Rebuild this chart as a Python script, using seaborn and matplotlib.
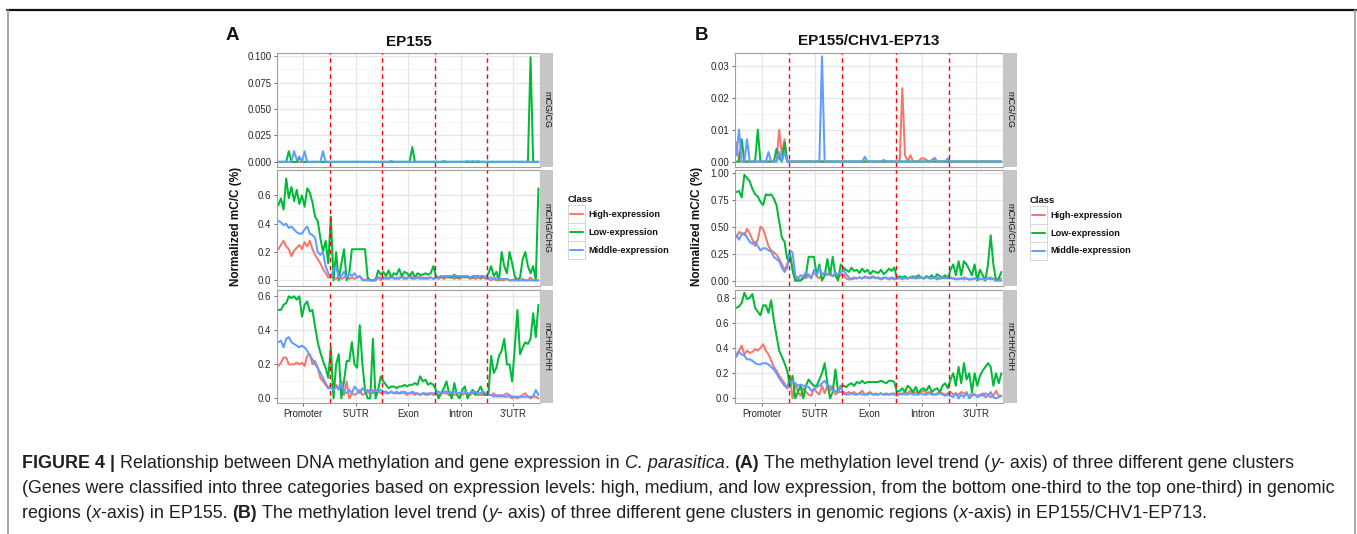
import matplotlib
matplotlib.use("Agg")
import matplotlib.pyplot as plt
import numpy as np
import pandas as pd
import seaborn as sns
from matplotlib.lines import Line2D
from matplotlib.patches import Rectangle
from matplotlib.ticker import FormatStrFormatter

# ---------------- data ----------------
regions = ["Promoter", "5'UTR", "Exon", "Intron", "3'UTR"]
bins_per_region = 20
classes = ["High-expression", "Low-expression", "Middle-expression"]
contexts = ["mCG/CG", "mCHG/CHG", "mCHH/CHH"]
palette = {"High-expression": "#F8766D", "Low-expression": "#00BA38", "Middle-expression": "#619CFF"}

# Panel A: EP155
A_CG_high = [0, 0, 0, 0, 0, 0, 0, 0, 0, 0, 0, 0, 0, 0, 0, 0, 0, 0, 0, 0,
             0, 0, 0, 0, 0, 0, 0, 0, 0, 0, 0, 0, 0, 0, 0, 0, 0, 0, 0, 0,
             0, 0, 0, 0, 0, 0, 0, 0, 0, 0, 0, 0, 0, 0, 0, 0, 0, 0, 0, 0,
             0, 0, 0, 0, 0, 0, 0, 0, 0, 0, 0, 0, 0, 0, 0, 0, 0, 0, 0, 0,
             0, 0, 0, 0, 0, 0, 0, 0, 0, 0, 0, 0, 0, 0, 0, 0, 0, 0, 0, 0]
A_CG_low = [0, 0, 0, 0, 0.010, 0, 0, 0, 0.004, 0, 0, 0, 0, 0, 0, 0, 0, 0, 0, 0,
            0, 0, 0, 0, 0, 0, 0, 0, 0, 0, 0, 0, 0, 0, 0, 0, 0, 0, 0, 0,
            0, 0, 0, 0, 0, 0, 0, 0, 0, 0, 0, 0.014, 0, 0, 0, 0, 0, 0, 0, 0,
            0, 0, 0, 0, 0, 0, 0, 0, 0, 0, 0, 0, 0, 0, 0, 0, 0, 0, 0, 0,
            0, 0, 0, 0, 0, 0, 0, 0, 0, 0, 0, 0, 0, 0, 0, 0, 0.099, 0, 0, 0]
A_CG_mid = [0, 0, 0, 0, 0, 0, 0.010, 0.002, 0.005, 0, 0.010, 0, 0, 0, 0, 0, 0, 0.010, 0, 0,
            0, 0, 0, 0, 0, 0, 0, 0, 0, 0, 0, 0, 0, 0, 0, 0, 0, 0, 0, 0,
            0, 0, 0, 0.0007, 0, 0, 0, 0, 0, 0, 0, 0, 0, 0, 0, 0, 0, 0, 0, 0,
            0, 0, 0, 0.0007, 0, 0, 0, 0, 0, 0, 0, 0, 0.0007, 0, 0.0007, 0, 0.0007, 0, 0, 0,
            0, 0, 0, 0, 0, 0, 0, 0, 0, 0, 0, 0, 0, 0, 0, 0, 0, 0, 0, 0]

A_CHG_high = [0.22, 0.25, 0.28, 0.24, 0.22, 0.17, 0.21, 0.23, 0.25, 0.22, 0.27, 0.24, 0.28, 0.22, 0.18, 0.15, 0.12, 0.08, 0.05, 0.02,
              0.03, 0.02, 0.01, 0.03, 0.01, 0.02, 0.03, 0.01, 0.02, 0.01, 0.02, 0.03, 0.01, 0.0, 0.01, 0.0, 0.0, 0.01, 0.02, 0.0,
              0.02, 0.01, 0.02, 0.03, 0.01, 0.02, 0.01, 0.03, 0.02, 0.01, 0.04, 0.02, 0.01, 0.02, 0.03, 0.01, 0.02, 0.01, 0.02, 0.01,
              0.02, 0.01, 0.02, 0.01, 0.02, 0.03, 0.02, 0.01, 0.02, 0.01, 0.02, 0.03, 0.02, 0.01, 0.02, 0.01, 0.02, 0.01, 0.02, 0.01,
              0.01, 0.0, 0.01, 0.0, 0.01, 0.0, 0.0, 0.01, 0.0, 0.0, 0.01, 0.0, 0.0, 0.01, 0.0, 0.0, 0.02, 0.0, 0.0, 0.0]
A_CHG_low = [0.53, 0.58, 0.50, 0.72, 0.58, 0.66, 0.56, 0.64, 0.54, 0.60, 0.52, 0.65, 0.62, 0.55, 0.45, 0.42, 0.30, 0.20, 0.28, 0.12,
             0.45, 0.0, 0.20, 0.0, 0.12, 0.22, 0.0, 0.05, 0.22, 0.22, 0.22, 0.22, 0.22, 0.22, 0.02, 0.0, 0.0, 0.0, 0.07, 0.04,
             0.06, 0.03, 0.07, 0.02, 0.05, 0.04, 0.08, 0.03, 0.06, 0.05, 0.03, 0.06, 0.02, 0.05, 0.04, 0.04, 0.05, 0.04, 0.05, 0.10,
             0.03, 0.02, 0.03, 0.02, 0.03, 0.02, 0.02, 0.03, 0.02, 0.02, 0.03, 0.02, 0.03, 0.02, 0.02, 0.03, 0.03, 0.02, 0.03, 0.02,
             0.05, 0.10, 0.03, 0.06, 0.0, 0.20, 0.10, 0.05, 0.20, 0.12, 0.03, 0.0, 0.02, 0.15, 0.20, 0.10, 0.05, 0.10, 0.0, 0.65]
A_CHG_mid = [0.42, 0.41, 0.39, 0.40, 0.37, 0.38, 0.36, 0.34, 0.33, 0.33, 0.36, 0.38, 0.33, 0.32, 0.30, 0.20, 0.18, 0.20, 0.10, 0.05,
             0.02, 0.08, 0.10, 0.02, 0.03, 0.06, 0.02, 0.05, 0.03, 0.05, 0.02, 0.03, 0.0, 0.0, 0.0, 0.0, 0.0, 0.0, 0.02, 0.02,
             0.01, 0.02, 0.01, 0.02, 0.02, 0.01, 0.02, 0.02, 0.01, 0.02, 0.02, 0.01, 0.02, 0.02, 0.01, 0.02, 0.01, 0.02, 0.02, 0.01,
             0.02, 0.02, 0.02, 0.03, 0.03, 0.03, 0.03, 0.04, 0.03, 0.03, 0.03, 0.03, 0.03, 0.02, 0.03, 0.03, 0.02, 0.03, 0.03, 0.02,
             0.02, 0.02, 0.01, 0.02, 0.01, 0.01, 0.01, 0.01, 0.0, 0.0, 0.0, 0.0, 0.0, 0.0, 0.0, 0.0, 0.0, 0.0, 0.0, 0.0]

A_CHH_high = [0.19, 0.21, 0.24, 0.24, 0.20, 0.20, 0.20, 0.21, 0.20, 0.21, 0.19, 0.25, 0.26, 0.20, 0.22, 0.18, 0.12, 0.10, 0.08, 0.06,
              0.08, 0.07, 0.08, 0.06, 0.10, 0.02, 0.10, 0.0, 0.03, 0.02, 0.03, 0.05, 0.02, 0.03, 0.04, 0.03, 0.05, 0.03, 0.04, 0.03,
              0.04, 0.03, 0.03, 0.04, 0.03, 0.03, 0.03, 0.04, 0.03, 0.02, 0.03, 0.03, 0.02, 0.03, 0.02, 0.03, 0.02, 0.03, 0.03, 0.02,
              0.03, 0.02, 0.03, 0.03, 0.03, 0.02, 0.03, 0.02, 0.03, 0.03, 0.02, 0.03, 0.03, 0.02, 0.03, 0.03, 0.02, 0.02, 0.02, 0.02,
              0.02, 0.02, 0.03, 0.01, 0.02, 0.01, 0.02, 0.03, 0.01, 0.0, 0.01, 0.0, 0.01, 0.02, 0.03, 0.01, 0.0, 0.01, 0.01, 0.0]
A_CHH_low = [0.52, 0.52, 0.55, 0.56, 0.60, 0.59, 0.60, 0.58, 0.60, 0.48, 0.55, 0.57, 0.51, 0.52, 0.42, 0.33, 0.27, 0.22, 0.18, 0.12,
             0.30, 0.0, 0.20, 0.26, 0.0, 0.10, 0.22, 0.22, 0.33, 0.20, 0.18, 0.43, 0.20, 0.05, 0.0, 0.0, 0.35, 0.0, 0.05, 0.13,
             0.10, 0.08, 0.06, 0.07, 0.07, 0.06, 0.07, 0.07, 0.08, 0.07, 0.08, 0.08, 0.09, 0.08, 0.13, 0.10, 0.11, 0.08, 0.09, 0.08,
             0.05, 0.0, 0.03, 0.06, 0.10, 0.03, 0.0, 0.09, 0.02, 0.0, 0.05, 0.07, 0.0, 0.03, 0.05, 0.02, 0.04, 0.07, 0.03, 0.02,
             0.03, 0.25, 0.15, 0.18, 0.25, 0.28, 0.35, 0.20, 0.20, 0.10, 0.30, 0.52, 0.26, 0.30, 0.33, 0.32, 0.35, 0.50, 0.36, 0.55]
A_CHH_mid = [0.33, 0.34, 0.30, 0.35, 0.36, 0.33, 0.32, 0.31, 0.30, 0.31, 0.30, 0.28, 0.25, 0.23, 0.20, 0.18, 0.15, 0.12, 0.09, 0.06,
             0.06, 0.05, 0.07, 0.05, 0.09, 0.04, 0.03, 0.05, 0.03, 0.07, 0.05, 0.03, 0.06, 0.04, 0.05, 0.04, 0.03, 0.05, 0.04, 0.05,
             0.04, 0.04, 0.03, 0.04, 0.03, 0.04, 0.03, 0.03, 0.04, 0.03, 0.03, 0.04, 0.03, 0.03, 0.02, 0.03, 0.03, 0.02, 0.03, 0.03,
             0.03, 0.04, 0.03, 0.04, 0.04, 0.03, 0.04, 0.04, 0.03, 0.03, 0.04, 0.04, 0.03, 0.03, 0.04, 0.04, 0.03, 0.03, 0.04, 0.03,
             0.02, 0.02, 0.01, 0.02, 0.01, 0.02, 0.01, 0.01, 0.02, 0.01, 0.01, 0.01, 0.01, 0.01, 0.01, 0.01, 0.01, 0.01, 0.05, 0.02]

# Panel B: EP155/CHV1-EP713
B_CG_high = [0.006, 0, 0, 0, 0, 0, 0, 0, 0, 0, 0, 0, 0, 0, 0, 0, 0.010, 0.002, 0.007, 0,
             0, 0, 0, 0, 0, 0, 0, 0, 0, 0, 0, 0, 0, 0, 0, 0, 0, 0, 0, 0,
             0, 0, 0, 0, 0, 0, 0, 0, 0, 0, 0, 0, 0, 0, 0, 0, 0, 0, 0, 0,
             0, 0, 0.023, 0.002, 0, 0.002, 0, 0, 0, 0.001, 0.001, 0.0005, 0, 0.0005, 0.001, 0, 0, 0, 0, 0,
             0, 0, 0, 0, 0, 0, 0, 0, 0, 0, 0, 0, 0, 0, 0, 0, 0, 0, 0, 0]
B_CG_low = [0, 0, 0.007, 0, 0, 0, 0, 0, 0.010, 0, 0, 0, 0, 0, 0, 0.004, 0.001, 0, 0.006, 0,
            0, 0, 0, 0, 0, 0, 0, 0, 0, 0, 0, 0, 0, 0, 0, 0, 0, 0, 0, 0,
            0, 0, 0, 0, 0, 0, 0, 0, 0, 0, 0, 0, 0, 0, 0, 0, 0, 0, 0, 0,
            0, 0, 0, 0, 0, 0, 0, 0, 0, 0, 0, 0, 0, 0, 0, 0, 0, 0, 0, 0,
            0, 0, 0, 0, 0, 0, 0, 0, 0, 0, 0, 0, 0, 0, 0, 0, 0, 0, 0, 0]
B_CG_mid = [0.002, 0.010, 0, 0, 0.007, 0, 0, 0, 0, 0, 0, 0, 0.003, 0, 0, 0, 0.003, 0, 0.003, 0,
            0, 0, 0, 0, 0, 0, 0, 0, 0, 0, 0, 0, 0.033, 0, 0, 0, 0, 0, 0, 0,
            0, 0, 0, 0, 0, 0, 0, 0, 0.0015, 0, 0, 0, 0, 0, 0, 0.0005, 0, 0, 0, 0,
            0, 0, 0, 0, 0, 0, 0, 0, 0, 0, 0, 0, 0, 0, 0.0012, 0, 0, 0, 0, 0.001,
            0, 0, 0, 0, 0, 0, 0, 0, 0, 0, 0, 0, 0, 0, 0, 0, 0, 0, 0, 0]

B_CHG_high = [0.40, 0.45, 0.44, 0.42, 0.48, 0.44, 0.38, 0.32, 0.38, 0.50, 0.48, 0.40, 0.32, 0.28, 0.26, 0.24, 0.20, 0.15, 0.10, 0.15,
              0.25, 0.10, 0.0, 0.02, 0.0, 0.05, 0.02, 0.06, 0.03, 0.08, 0.04, 0.02, 0.06, 0.07, 0.05, 0.08, 0.04, 0.06, 0.03, 0.05,
              0.06, 0.02, 0.01, 0.02, 0.03, 0.02, 0.03, 0.02, 0.04, 0.02, 0.03, 0.04, 0.02, 0.03, 0.01, 0.02, 0.03, 0.01, 0.02, 0.01,
              0.02, 0.03, 0.01, 0.03, 0.02, 0.03, 0.02, 0.04, 0.02, 0.03, 0.02, 0.04, 0.02, 0.02, 0.03, 0.01, 0.02, 0.02, 0.03, 0.02,
              0.03, 0.02, 0.02, 0.01, 0.02, 0.03, 0.02, 0.01, 0.02, 0.02, 0.01, 0.02, 0.01, 0.01, 0.02, 0.01, 0.02, 0.01, 0.01, 0.02]
B_CHG_low = [0.82, 0.83, 0.77, 0.98, 0.95, 0.92, 0.85, 0.80, 0.78, 0.73, 0.70, 0.80, 0.79, 0.80, 0.76, 0.70, 0.55, 0.40, 0.36, 0.20,
             0.25, 0.10, 0.0, 0.0, 0.0, 0.02, 0.05, 0.22, 0.22, 0.22, 0.05, 0.15, 0.0, 0.05, 0.20, 0.05, 0.22, 0.05, 0.0, 0.15,
             0.12, 0.10, 0.08, 0.12, 0.09, 0.10, 0.07, 0.11, 0.08, 0.10, 0.06, 0.09, 0.08, 0.07, 0.10, 0.06, 0.08, 0.11, 0.09, 0.12,
             0.02, 0.04, 0.03, 0.04, 0.02, 0.03, 0.04, 0.02, 0.05, 0.03, 0.02, 0.04, 0.03, 0.05, 0.02, 0.06, 0.04, 0.03, 0.05, 0.02,
             0.10, 0.15, 0.05, 0.18, 0.05, 0.18, 0.15, 0.10, 0.05, 0.15, 0.0, 0.10, 0.05, 0.0, 0.15, 0.42, 0.15, 0.0, 0.02, 0.08]
B_CHG_mid = [0.42, 0.38, 0.43, 0.44, 0.40, 0.36, 0.34, 0.36, 0.32, 0.28, 0.30, 0.30, 0.28, 0.27, 0.22, 0.20, 0.18, 0.12, 0.08, 0.12,
             0.28, 0.26, 0.05, 0.02, 0.05, 0.03, 0.08, 0.04, 0.02, 0.10, 0.05, 0.12, 0.06, 0.07, 0.06, 0.06, 0.04, 0.07, 0.06, 0.07,
             0.10, 0.06, 0.03, 0.01, 0.02, 0.02, 0.03, 0.02, 0.03, 0.03, 0.02, 0.03, 0.03, 0.02, 0.02, 0.03, 0.02, 0.02, 0.03, 0.02,
             0.02, 0.02, 0.03, 0.02, 0.02, 0.03, 0.03, 0.02, 0.03, 0.03, 0.02, 0.03, 0.03, 0.02, 0.03, 0.02, 0.03, 0.03, 0.02, 0.03,
             0.02, 0.02, 0.01, 0.02, 0.02, 0.01, 0.02, 0.01, 0.01, 0.02, 0.01, 0.01, 0.02, 0.01, 0.02, 0.03, 0.01, 0.0, 0.0, 0.0]

B_CHH_high = [0.35, 0.38, 0.42, 0.35, 0.38, 0.36, 0.37, 0.39, 0.38, 0.40, 0.43, 0.38, 0.35, 0.30, 0.25, 0.22, 0.18, 0.15, 0.12, 0.08,
              0.18, 0.0, 0.12, 0.05, 0.02, 0.08, 0.05, 0.03, 0.02, 0.08, 0.05, 0.03, 0.10, 0.04, 0.10, 0.06, 0.10, 0.03, 0.05, 0.05,
              0.05, 0.04, 0.05, 0.04, 0.05, 0.03, 0.04, 0.06, 0.03, 0.04, 0.05, 0.03, 0.04, 0.03, 0.04, 0.03, 0.04, 0.03, 0.03, 0.04,
              0.02, 0.04, 0.03, 0.05, 0.04, 0.06, 0.04, 0.05, 0.04, 0.05, 0.06, 0.04, 0.05, 0.04, 0.03, 0.04, 0.05, 0.04, 0.03, 0.04,
              0.05, 0.03, 0.04, 0.03, 0.05, 0.04, 0.03, 0.02, 0.04, 0.03, 0.02, 0.03, 0.02, 0.04, 0.03, 0.01, 0.02, 0.06, 0.02, 0.02]
B_CHH_low = [0.72, 0.73, 0.76, 0.84, 0.79, 0.80, 0.83, 0.72, 0.69, 0.66, 0.74, 0.74, 0.68, 0.78, 0.62, 0.50, 0.38, 0.33, 0.28, 0.22,
             0.10, 0.18, 0.0, 0.05, 0.10, 0.0, 0.10, 0.15, 0.12, 0.10, 0.10, 0.15, 0.20, 0.28, 0.12, 0.0, 0.05, 0.23, 0.05, 0.10,
             0.10, 0.09, 0.11, 0.12, 0.10, 0.13, 0.12, 0.14, 0.12, 0.13, 0.13, 0.13, 0.13, 0.13, 0.14, 0.13, 0.12, 0.14, 0.14, 0.13,
             0.05, 0.06, 0.08, 0.05, 0.10, 0.08, 0.05, 0.09, 0.04, 0.07, 0.08, 0.06, 0.10, 0.05, 0.07, 0.08, 0.05, 0.10, 0.12, 0.08,
             0.15, 0.20, 0.10, 0.25, 0.12, 0.28, 0.15, 0.20, 0.05, 0.20, 0.10, 0.18, 0.22, 0.25, 0.28, 0.25, 0.10, 0.20, 0.12, 0.20]
B_CHH_mid = [0.33, 0.37, 0.35, 0.34, 0.31, 0.31, 0.30, 0.28, 0.27, 0.27, 0.28, 0.28, 0.27, 0.25, 0.23, 0.20, 0.16, 0.13, 0.10, 0.08,
             0.12, 0.14, 0.12, 0.10, 0.11, 0.10, 0.10, 0.09, 0.06, 0.07, 0.09, 0.10, 0.12, 0.14, 0.10, 0.10, 0.06, 0.06, 0.05, 0.10,
             0.04, 0.03, 0.03, 0.04, 0.03, 0.03, 0.04, 0.03, 0.03, 0.03, 0.04, 0.03, 0.03, 0.03, 0.04, 0.03, 0.03, 0.03, 0.04, 0.03,
             0.03, 0.03, 0.04, 0.03, 0.03, 0.04, 0.03, 0.03, 0.03, 0.04, 0.03, 0.03, 0.04, 0.03, 0.03, 0.03, 0.04, 0.03, 0.02, 0.03,
             0.02, 0.01, 0.04, 0.0, 0.03, 0.01, 0.05, 0.0, 0.02, 0.03, 0.01, 0.02, 0.04, 0.01, 0.02, 0.05, 0.01, 0.0, 0.01, 0.02]

A_yticks = {"mCG/CG": [0.0, 0.025, 0.05, 0.075, 0.1], "mCHG/CHG": [0.0, 0.2, 0.4, 0.6], "mCHH/CHH": [0.0, 0.2, 0.4, 0.6]}
B_yticks = {"mCG/CG": [0.0, 0.01, 0.02, 0.03], "mCHG/CHG": [0.0, 0.25, 0.5, 0.75, 1.0], "mCHH/CHH": [0.0, 0.2, 0.4, 0.6, 0.8]}
A_yfmt = {"mCG/CG": "%.3f", "mCHG/CHG": "%.1f", "mCHH/CHH": "%.1f"}
B_yfmt = {"mCG/CG": "%.2f", "mCHG/CHG": "%.2f", "mCHH/CHH": "%.1f"}
A_ylim = {"mCG/CG": (-0.0049, 0.1035), "mCHG/CHG": (-0.04, 0.78), "mCHH/CHH": (-0.027, 0.64)}
B_ylim = {"mCG/CG": (-0.0017, 0.0342), "mCHG/CHG": (-0.05, 1.025), "mCHH/CHH": (-0.037, 0.866)}


def build_df(series):
    rows = []
    for ctx, per_class in series.items():
        for cls, vals in per_class.items():
            for i, v in enumerate(vals):
                rows.append({"bin": i + 1, "value": v, "Class": cls, "context": ctx})
    return pd.DataFrame(rows)


dfA = build_df({
    "mCG/CG": {"High-expression": A_CG_high, "Low-expression": A_CG_low, "Middle-expression": A_CG_mid},
    "mCHG/CHG": {"High-expression": A_CHG_high, "Low-expression": A_CHG_low, "Middle-expression": A_CHG_mid},
    "mCHH/CHH": {"High-expression": A_CHH_high, "Low-expression": A_CHH_low, "Middle-expression": A_CHH_mid},
})
dfB = build_df({
    "mCG/CG": {"High-expression": B_CG_high, "Low-expression": B_CG_low, "Middle-expression": B_CG_mid},
    "mCHG/CHG": {"High-expression": B_CHG_high, "Low-expression": B_CHG_low, "Middle-expression": B_CHG_mid},
    "mCHH/CHH": {"High-expression": B_CHH_high, "Low-expression": B_CHH_low, "Middle-expression": B_CHH_mid},
})

# ---------------- figure ----------------
sns.set_theme(style="white")
plt.rcParams["font.family"] = ["Liberation Sans", "DejaVu Sans"]

W, H = 1357, 534
fig = plt.figure(figsize=(W / 100, H / 100), dpi=100)
fig.patch.set_facecolor("white")


def px_axes(x0, y0, x1, y1):
    return fig.add_axes([x0 / W, 1 - y1 / H, (x1 - x0) / W, (y1 - y0) / H])


def fx(x):
    return x / W


def fy(y):
    return 1 - y / H


row_y = [(52.5, 167), (170, 286), (289.5, 403)]
n_bins = bins_per_region * len(regions)
xt_major = [bins_per_region * i + bins_per_region / 2 + 0.5 for i in range(len(regions))]
boundaries = [bins_per_region * i + 0.5 for i in range(1, len(regions))]
x_minor = [0.5] + boundaries + [n_bins + 0.5]

TICK_COL = "#262626"


def draw_panel(df, x0, x1, strip_x1, yticks, yfmt, ylims):
    for r, ctx in enumerate(contexts):
        y0, y1 = row_y[r]
        ax = px_axes(x0, y0, x1, y1)
        sub = df[df["context"] == ctx]
        sns.lineplot(data=sub, x="bin", y="value", hue="Class", hue_order=classes,
                     palette=palette, linewidth=1.45, legend=False, ax=ax, zorder=2)
        for b in boundaries:
            ax.axvline(b, color="#FF0000", lw=1.0, ls=(0, (3.2, 2.6)), zorder=3)
        ax.set_xlim(0.55, n_bins + 0.6)
        ax.set_ylim(*ylims[ctx])
        ax.set_xticks(xt_major)
        ax.set_xticks(x_minor, minor=True)
        yt = yticks[ctx]
        ax.set_yticks(yt)
        ax.set_yticks([(a + b) / 2 for a, b in zip(yt[:-1], yt[1:])], minor=True)
        ax.yaxis.set_major_formatter(FormatStrFormatter(yfmt[ctx]))
        ax.grid(which="major", color="#E6E6E6", lw=0.9, zorder=0)
        ax.grid(which="minor", color="#F2F2F2", lw=0.5, zorder=0)
        ax.set_axisbelow(True)
        ax.set_xlabel("")
        ax.set_ylabel("")
        for sp in ax.spines.values():
            sp.set_color("#A0A0A0")
            sp.set_linewidth(0.8)
        ax.tick_params(axis="y", which="major", length=2.5, width=0.6, color="#555555",
                       labelsize=6.9, labelcolor=TICK_COL, pad=1.5, left=True)
        ax.tick_params(which="minor", length=0)
        if r == len(contexts) - 1:
            ax.set_xticklabels(regions)
            ax.tick_params(axis="x", which="major", length=2.5, width=0.6, color="#555555",
                           labelsize=6.9, labelcolor=TICK_COL, pad=1.5, bottom=True)
        else:
            ax.tick_params(axis="x", which="major", length=0, labelbottom=False)
        sax = px_axes(x1, y0, strip_x1, y1)
        sax.set_facecolor("#C6C6C6")
        sax.set_xticks([])
        sax.set_yticks([])
        for sp in sax.spines.values():
            sp.set_visible(False)
        sax.text(0.5, 0.5, ctx, rotation=270, ha="center", va="center",
                 fontsize=6.5, color="#1A1A1A", transform=sax.transAxes)


draw_panel(dfA, 277, 540, 553, A_yticks, A_yfmt, A_ylim)
draw_panel(dfB, 735, 1003, 1017, B_yticks, B_yfmt, B_ylim)

# titles, letters, y labels
fig.text(fx(408.5), fy(42), "EP155", ha="center", va="center", fontsize=11, fontweight="bold", color="#111111")
fig.text(fx(869), fy(41), "EP155/CHV1-EP713", ha="center", va="center", fontsize=11, fontweight="bold", color="#111111")
fig.text(fx(232), fy(35), "A", ha="center", va="center", fontsize=13.5, fontweight="bold", color="#111111")
fig.text(fx(701), fy(35), "B", ha="center", va="center", fontsize=13.5, fontweight="bold", color="#111111")
fig.text(fx(236), fy(226), "Normalized mC/C (%)", rotation=90, ha="center", va="center",
         fontsize=8.5, fontweight="bold", color="#111111")
fig.text(fx(697), fy(226), "Normalized mC/C (%)", rotation=90, ha="center", va="center",
         fontsize=8.5, fontweight="bold", color="#111111")


# legends
def draw_legend(x_key, y_title, x_text, rows):
    fig.text(fx(x_key), fy(y_title), "Class", ha="left", va="center", fontsize=6.8,
             fontweight="bold", color="#111111")
    for cls, yy in zip(classes, rows):
        fig.add_artist(Rectangle((fx(x_key), fy(yy + 9)), 17 / W, 18 / H, transform=fig.transFigure,
                                 facecolor="white", edgecolor="#D0D0D0", lw=0.6))
        fig.add_artist(Line2D([fx(x_key + 2), fx(x_key + 15)], [fy(yy), fy(yy)], color=palette[cls],
                              lw=1.4, transform=fig.transFigure))
        fig.text(fx(x_text), fy(yy), cls, ha="left", va="center", fontsize=6.6,
                 fontweight="bold", color="#111111")


draw_legend(567.5, 200, 588, [214.3, 232.3, 250.3])
draw_legend(1030, 201, 1050, [215, 233, 251])

# frame lines
fig.add_artist(Line2D([fx(7), fx(1356)], [fy(9.5), fy(9.5)], color="#111111", lw=1.6, transform=fig.transFigure))
fig.add_artist(Line2D([fx(7.5), fx(7.5)], [fy(9.5), fy(534)], color="#9A9A9A", lw=1.2, transform=fig.transFigure))
fig.add_artist(Line2D([fx(1354.5), fx(1354.5)], [fy(9.5), fy(534)], color="#9A9A9A", lw=1.2, transform=fig.transFigure))

# caption
renderer = fig.canvas.get_renderer()
CAP_COL = "#231F20"


def style_kw(st, fs):
    kw = {"fontsize": fs, "color": CAP_COL}
    if st == "b":
        kw["fontweight"] = "bold"
    elif st == "i":
        kw["fontstyle"] = "italic"
    return kw


def seg_width(s, st, fs):
    t1 = fig.text(0, 0, "|" + s + "|", **style_kw(st, fs))
    t2 = fig.text(0, 0, "||", **style_kw(st, fs))
    w = t1.get_window_extent(renderer).width - t2.get_window_extent(renderer).width
    t1.remove()
    t2.remove()
    return w


def line_width(segs, fs):
    return sum(seg_width(s, st, fs) for s, st in segs)


cap_lines = [
    [("FIGURE 4 |", "b"), (" Relationship between DNA methylation and gene expression in ", "n"),
     ("C. parasitica", "i"), (". ", "n"), ("(A)", "b"),
     (" The methylation level trend (", "n"), ("y", "i"), ("- axis) of three different gene clusters", "n")],
    [("(Genes were classified into three categories based on expression levels: high, medium, and low expression, "
      "from the bottom one-third to the top one-third) in genomic", "n")],
    [("regions (", "n"), ("x", "i"), ("-axis) in EP155. ", "n"), ("(B)", "b"),
     (" The methylation level trend (", "n"), ("y", "i"),
     ("- axis) of three different gene clusters in genomic regions (", "n"), ("x", "i"),
     ("-axis) in EP155/CHV1-EP713.", "n")],
]
CAP_X0 = 22.0
base_fs = 10.0
w2 = line_width(cap_lines[1], base_fs)
cap_fs = base_fs * (1318.0 / w2)
cap_base_y = [468, 493, 518]

for segs, yb in zip(cap_lines, cap_base_y):
    x = CAP_X0
    for s, st in segs:
        lead = len(s) - len(s.lstrip(" "))
        core = s.strip(" ")
        if lead:
            x += seg_width(" " * lead, st, cap_fs)
        if core:
            fig.text(fx(x), fy(yb), core, ha="left", va="baseline", **style_kw(st, cap_fs))
            x += seg_width(core, st, cap_fs)
        trail = len(s) - len(s.rstrip(" "))
        if trail and core:
            x += seg_width(" " * trail, st, cap_fs)

fig.savefig("out.png", dpi=100, facecolor="white")
